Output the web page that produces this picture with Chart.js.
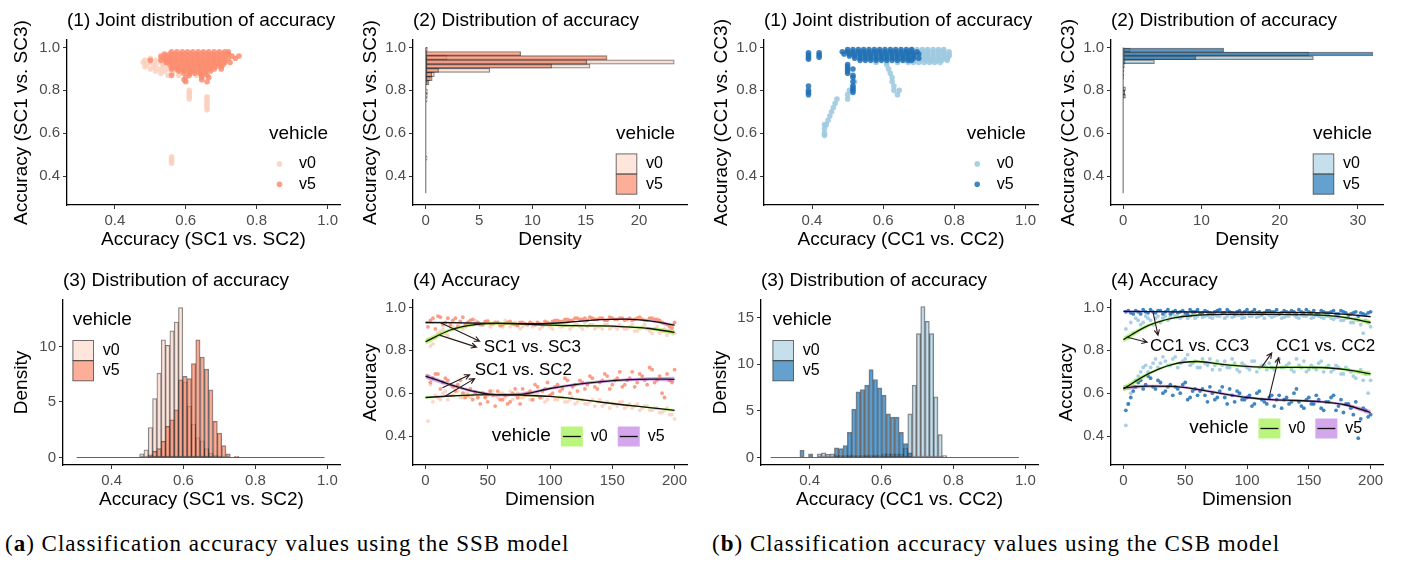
<!DOCTYPE html>
<html>
<head>
<meta charset="utf-8">
<script src="https://cdn.jsdelivr.net/npm/chart.js@4.4.1/dist/chart.umd.min.js"></script>
<style>
  body { margin: 0; background: #fff; width: 1401px; height: 566px; position: relative; overflow: hidden; }
  canvas { position: absolute; }
  .cap { position: absolute; font-family: "Liberation Serif", "Times New Roman", serif; font-size: 23px;
         letter-spacing: 1px; color: #000; white-space: nowrap; }
</style>
</head>
<body>
<canvas id="a1" width="345" height="255" style="left:0px;top:0px"></canvas>
<canvas id="a2" width="350" height="255" style="left:345px;top:0px"></canvas>
<canvas id="b1" width="345" height="255" style="left:700px;top:0px"></canvas>
<canvas id="b2" width="356" height="255" style="left:1045px;top:0px"></canvas>
<canvas id="a3" width="345" height="255" style="left:0px;top:260px"></canvas>
<canvas id="a4" width="350" height="255" style="left:345px;top:260px"></canvas>
<canvas id="b3" width="345" height="255" style="left:700px;top:260px"></canvas>
<canvas id="b4" width="356" height="255" style="left:1045px;top:260px"></canvas>
<div class="cap" style="left:5px;top:531px">(<b>a</b>) Classification accuracy values using the SSB model</div>
<div class="cap" style="left:712px;top:531px">(<b>b</b>) Classification accuracy values using the CSB model</div>
<script>
const FONT = '"Liberation Sans", Arial, sans-serif';

// ---- axis ticks
const accTicks = [0.4, 0.6, 0.8, 1.0];
const dimTicks = [0, 50, 100, 150, 200];

// ---- (1) joint scatter, read row by row: [accuracy vs SC3/CC3, [accuracy vs SC2/CC2 ...]]
const jointSsbV5 = [
  [0.98, [0.56, 0.575, 0.59, 0.605, 0.62, 0.635, 0.65, 0.665, 0.68, 0.695, 0.71, 0.72]],
  [0.97, [0.54, 0.555, 0.57, 0.585, 0.60, 0.615, 0.63, 0.645, 0.66, 0.675, 0.69, 0.705, 0.72]],
  [0.96, [0.53, 0.545, 0.56, 0.575, 0.59, 0.605, 0.62, 0.635, 0.65, 0.665, 0.68, 0.695, 0.71, 0.73, 0.75]],
  [0.95, [0.54, 0.555, 0.57, 0.585, 0.60, 0.615, 0.63, 0.645, 0.66, 0.675, 0.69, 0.705, 0.72, 0.74]],
  [0.94, [0.50, 0.53, 0.545, 0.56, 0.575, 0.59, 0.605, 0.62, 0.635, 0.65, 0.665, 0.68, 0.695, 0.71]],
  [0.93, [0.545, 0.56, 0.575, 0.59, 0.605, 0.62, 0.635, 0.65, 0.665, 0.68, 0.695, 0.71, 0.725]],
  [0.92, [0.555, 0.57, 0.585, 0.60, 0.615, 0.63, 0.645, 0.66, 0.675, 0.69, 0.705]],
  [0.91, [0.565, 0.58, 0.595, 0.61, 0.625, 0.64, 0.655, 0.67, 0.685, 0.70]],
  [0.90, [0.56, 0.575, 0.59, 0.605, 0.62, 0.635, 0.65, 0.665, 0.68, 0.70]],
  [0.89, [0.58, 0.595, 0.61, 0.625, 0.64, 0.655, 0.67]],
  [0.88, [0.595, 0.61, 0.625, 0.64, 0.655]],
  [0.87, [0.56, 0.61, 0.645, 0.66]],
  [0.86, [0.60, 0.645, 0.665]],
  [0.85, [0.595, 0.645]],
  [0.84, [0.60, 0.66]]
];
const jointSsbV0 = [
  [0.95, [0.50, 0.53, 0.555]],
  [0.94, [0.485, 0.515, 0.545]],
  [0.93, [0.48, 0.50, 0.53, 0.555]],
  [0.92, [0.49, 0.515, 0.54]],
  [0.91, [0.485, 0.51, 0.535, 0.56]],
  [0.90, [0.50, 0.525, 0.55, 0.575]],
  [0.89, [0.515, 0.54, 0.565, 0.59, 0.62]],
  [0.88, [0.53, 0.56, 0.585, 0.61, 0.64]],
  [0.87, [0.55, 0.58, 0.63]],
  [0.80, [0.61]], [0.79, [0.61]], [0.78, [0.61]], [0.77, [0.61, 0.66]], [0.76, [0.61, 0.66]],
  [0.75, [0.66]], [0.74, [0.66]], [0.73, [0.66]], [0.72, [0.66]], [0.71, [0.66]],
  [0.49, [0.56]], [0.48, [0.56]], [0.47, [0.56]], [0.46, [0.56]]
];
const jointCsbV5 = [
  [0.99, [0.50, 0.515, 0.53, 0.545, 0.56, 0.575, 0.59, 0.605, 0.62, 0.635, 0.65, 0.665, 0.68]],
  [0.98, [0.485, 0.50, 0.515, 0.53, 0.545, 0.56, 0.575, 0.59, 0.605, 0.62, 0.635, 0.65, 0.665, 0.68, 0.695]],
  [0.97, [0.49, 0.505, 0.52, 0.535, 0.55, 0.565, 0.58, 0.595, 0.61, 0.625, 0.64, 0.655, 0.67, 0.685, 0.70]],
  [0.96, [0.505, 0.52, 0.535, 0.55, 0.565, 0.58, 0.595, 0.61, 0.625, 0.64, 0.655, 0.67, 0.685]],
  [0.95, [0.52, 0.535, 0.55, 0.565, 0.58, 0.595, 0.61, 0.625, 0.64, 0.655, 0.67, 0.685, 0.70]],
  [0.94, [0.535, 0.55, 0.565, 0.58, 0.595, 0.61, 0.625, 0.64, 0.655, 0.67, 0.68]],
  [0.975, [0.39, 0.42]], [0.965, [0.39, 0.42]], [0.955, [0.39, 0.42]], [0.945, [0.39]],
  [0.92, [0.50]], [0.91, [0.50]], [0.90, [0.50, 0.515]], [0.89, [0.50]], [0.88, [0.50]],
  [0.87, [0.515]], [0.86, [0.515]], [0.84, [0.515]], [0.82, [0.39, 0.515]], [0.81, [0.515]],
  [0.80, [0.39, 0.515]], [0.79, [0.39, 0.515]], [0.78, [0.39]]
];
const jointCsbV0 = [
  [0.99, [0.68, 0.695, 0.71, 0.725, 0.74, 0.755, 0.77]],
  [0.98, [0.665, 0.68, 0.695, 0.71, 0.725, 0.74, 0.755, 0.77, 0.785]],
  [0.97, [0.68, 0.695, 0.71, 0.725, 0.74, 0.755, 0.77, 0.785]],
  [0.96, [0.665, 0.68, 0.695, 0.71, 0.725, 0.74, 0.755, 0.77, 0.785]],
  [0.95, [0.68, 0.695, 0.71, 0.725, 0.74, 0.755, 0.77, 0.78]],
  [0.94, [0.66, 0.675, 0.69, 0.705, 0.72, 0.735, 0.75, 0.765, 0.78]],
  [0.93, [0.58, 0.61, 0.64, 0.67, 0.685, 0.70, 0.715, 0.73, 0.745, 0.76]],
  [0.92, [0.61]], [0.90, [0.615]], [0.88, [0.62]], [0.86, [0.625]], [0.84, [0.625, 0.52]],
  [0.82, [0.63, 0.515]], [0.80, [0.63, 0.645, 0.505]], [0.78, [0.64, 0.50]], [0.76, [0.50, 0.47]],
  [0.74, [0.465]], [0.72, [0.46]], [0.70, [0.455]], [0.68, [0.45]], [0.66, [0.445]],
  [0.64, [0.44, 0.435]], [0.62, [0.435]], [0.60, [0.435]], [0.59, [0.435]]
];

// ---- (2) density of accuracy vs SC3/CC3 (horizontal histogram)
const bins2Ssb = [0.991, 0.9715, 0.952, 0.9325, 0.913, 0.8935, 0.874, 0.8545, 0.835, 0.796, 0.7765, 0.757, 0.484];
const dens2SsbV5 = [0.15, 8.9, 17.0, 15.1, 11.8, 1.2, 0.55, 0.6, 0.3, 0, 0, 0, 0];
const dens2SsbV0 = [0.05, 0.1, 2.0, 23.3, 15.4, 6.0, 0.8, 0.4, 0.1, 0.15, 0.15, 0.12, 0.12];
const bins2Csb = [0.988, 0.970, 0.952, 0.934, 0.916, 0.898, 0.880, 0.862, 0.808, 0.790, 0.772];
const dens2CsbV5 = [12.85, 31.9, 9.3, 0.25, 0.12, 0.1, 0.08, 0.06, 0.1, 0.2, 0.15];
const dens2CsbV0 = [0.9, 23.7, 24.3, 4.0, 0.15, 0.1, 0.05, 0.05, 0.3, 0.2, 0.3];

// ---- (3) density of accuracy vs SC2/CC2
const bins3Ssb = [0.484, 0.496, 0.508, 0.520, 0.532, 0.544, 0.556, 0.568, 0.580, 0.592, 0.604, 0.616,
                  0.628, 0.640, 0.652, 0.664, 0.676, 0.688, 0.700, 0.712, 0.724, 0.736, 0.748];
const dens3SsbV0 = [0.33, 0.7, 2.7, 5.3, 7.6, 10.6, 10.1, 11.4, 12.2, 13.5, 6.8, 4.6,
                    3.0, 1.8, 1.5, 0.8, 0.4, 0.2, 0.1, 0, 0, 0, 0];
const dens3SsbV5 = [0, 0, 0.25, 0.55, 0.8, 1.45, 2.8, 3.4, 4.3, 7.0, 7.3, 7.1,
                    8.45, 10.6, 9.05, 7.95, 6.1, 3.25, 2.2, 1.07, 0.33, 0, 0.1];
const bins3Csb = [0.379, 0.391, 0.403, 0.415, 0.427, 0.439, 0.451, 0.463, 0.475, 0.487, 0.499, 0.511,
                  0.523, 0.535, 0.547, 0.559, 0.571, 0.583, 0.595, 0.607, 0.619, 0.631, 0.643, 0.655,
                  0.667, 0.679, 0.691, 0.703, 0.715, 0.727, 0.739, 0.751, 0.763, 0.775];
const dens3CsbV5 = [0.78, 0, 0.39, 0, 0, 0, 0, 0, 1.03, 0.96, 1.28, 2.7,
                    5.2, 7.05, 7.3, 7.77, 9.43, 8.37, 7.48, 6.7, 4.68, 4.33, 4.33, 2.7,
                    1.5, 0.5, 0, 0, 0, 0, 0, 0, 0, 0];
const dens3CsbV0 = [0, 0, 0, 0, 0.4, 0.5, 0.35, 0.4, 0.3, 0.2, 0.2, 0.3,
                    0.2, 0.2, 0.2, 0.3, 0.2, 0.3, 0.2, 0.4, 0.4, 0.4, 0.4, 0.4,
                    1.0, 4.68, 7.77, 13.3, 16.2, 14.6, 13.3, 6.5, 2.45, 0.2];

// ---- (4) accuracy by dimension, read at two interleaved sets of dimensions
const dims = [2, 6, 10, 14, 18, 22, 26, 30, 34, 38, 42, 46, 50, 54, 58, 62, 66, 70, 74, 78,
              82, 86, 90, 94, 98, 102, 106, 110, 114, 118, 122, 126, 130, 134, 138, 142, 146, 150, 154, 158,
              162, 166, 170, 174, 178, 182, 186, 190, 194, 198];
const dimsB = [4, 8, 12, 16, 20, 24, 28, 32, 36, 40, 44, 48, 52, 56, 60, 64, 68, 72, 76, 80,
               84, 88, 92, 96, 100, 104, 108, 112, 116, 120, 124, 128, 132, 136, 140, 144, 148, 152, 156, 160,
               164, 168, 172, 176, 180, 184, 188, 192, 196, 200];
const sc3V5 = [0.91, 0.95, 0.96, 0.92, 0.95, 0.94, 0.91, 0.955, 0.93, 0.945, 0.93, 0.92, 0.935, 0.925, 0.93, 0.92, 0.93, 0.925, 0.915, 0.93,
               0.92, 0.925, 0.93, 0.92, 0.93, 0.935, 0.94, 0.935, 0.945, 0.94, 0.95, 0.945, 0.94, 0.95, 0.945, 0.95, 0.94, 0.95, 0.945, 0.95,
               0.945, 0.94, 0.95, 0.945, 0.94, 0.95, 0.945, 0.93, 0.92, 0.905];
const sc3V5B = [0.94, 0.90, 0.955, 0.93, 0.92, 0.95, 0.935, 0.92, 0.94, 0.925, 0.92, 0.935, 0.925, 0.93, 0.915, 0.925, 0.935, 0.92, 0.93, 0.925,
                0.93, 0.92, 0.925, 0.935, 0.925, 0.94, 0.935, 0.945, 0.94, 0.95, 0.945, 0.95, 0.955, 0.945, 0.95, 0.94, 0.955, 0.945, 0.95, 0.94,
                0.95, 0.945, 0.955, 0.94, 0.95, 0.945, 0.94, 0.925, 0.91, 0.93];
const sc3V0 = [0.85, 0.83, 0.88, 0.90, 0.87, 0.91, 0.92, 0.90, 0.93, 0.92, 0.93, 0.92, 0.94, 0.92, 0.93, 0.91, 0.93, 0.92, 0.92, 0.91,
               0.92, 0.91, 0.93, 0.91, 0.92, 0.90, 0.92, 0.91, 0.93, 0.91, 0.92, 0.90, 0.91, 0.92, 0.91, 0.90, 0.92, 0.91, 0.90, 0.91,
               0.90, 0.92, 0.89, 0.91, 0.90, 0.88, 0.91, 0.89, 0.87, 0.90];
const sc3V0B = [0.82, 0.86, 0.89, 0.88, 0.91, 0.90, 0.93, 0.91, 0.92, 0.94, 0.92, 0.93, 0.91, 0.93, 0.92, 0.94, 0.91, 0.93, 0.90, 0.92,
                0.93, 0.92, 0.90, 0.92, 0.91, 0.93, 0.91, 0.92, 0.90, 0.92, 0.91, 0.93, 0.92, 0.90, 0.91, 0.92, 0.90, 0.91, 0.92, 0.90,
                0.91, 0.89, 0.90, 0.92, 0.89, 0.90, 0.88, 0.90, 0.89, 0.88];
const sc2V5 = [0.68, 0.67, 0.69, 0.65, 0.66, 0.63, 0.64, 0.60, 0.59, 0.57, 0.58, 0.60, 0.56, 0.59, 0.61, 0.57, 0.55, 0.60, 0.58, 0.62,
               0.60, 0.57, 0.63, 0.61, 0.65, 0.60, 0.64, 0.62, 0.66, 0.63, 0.61, 0.65, 0.64, 0.67, 0.62, 0.66, 0.68, 0.64, 0.67, 0.63,
               0.66, 0.70, 0.65, 0.68, 0.64, 0.71, 0.66, 0.60, 0.69, 0.65];
const sc2V5B = [0.65, 0.69, 0.62, 0.67, 0.64, 0.61, 0.66, 0.58, 0.62, 0.60, 0.55, 0.58, 0.61, 0.54, 0.57, 0.59, 0.56, 0.62, 0.55, 0.59,
                0.61, 0.64, 0.58, 0.62, 0.59, 0.63, 0.61, 0.67, 0.60, 0.64, 0.66, 0.62, 0.68, 0.63, 0.65, 0.69, 0.62, 0.66, 0.70, 0.64,
                0.67, 0.63, 0.69, 0.66, 0.72, 0.65, 0.68, 0.58, 0.66, 0.71];
const sc2V0 = [0.47, 0.56, 0.58, 0.60, 0.57, 0.59, 0.61, 0.58, 0.60, 0.59, 0.58, 0.60, 0.59, 0.61, 0.58, 0.60, 0.59, 0.57, 0.60, 0.58,
               0.59, 0.57, 0.60, 0.58, 0.57, 0.59, 0.57, 0.58, 0.56, 0.58, 0.56, 0.57, 0.55, 0.57, 0.56, 0.54, 0.56, 0.55, 0.54, 0.56,
               0.54, 0.53, 0.55, 0.53, 0.54, 0.52, 0.53, 0.51, 0.53, 0.50];
const sc2V0B = [0.64, 0.59, 0.57, 0.61, 0.59, 0.62, 0.58, 0.60, 0.58, 0.61, 0.60, 0.58, 0.61, 0.59, 0.60, 0.58, 0.61, 0.59, 0.58, 0.60,
                0.57, 0.59, 0.58, 0.56, 0.59, 0.57, 0.58, 0.56, 0.57, 0.55, 0.57, 0.55, 0.56, 0.54, 0.57, 0.55, 0.53, 0.55, 0.56, 0.53,
                0.55, 0.54, 0.52, 0.54, 0.52, 0.53, 0.51, 0.52, 0.50, 0.48];
const cc3V5 = [0.98, 0.975, 0.985, 0.97, 0.98, 0.99, 0.975, 0.985, 0.98, 0.97, 0.985, 0.98, 0.975, 0.99, 0.98, 0.97, 0.985, 0.975, 0.98, 0.99,
               0.975, 0.98, 0.97, 0.985, 0.98, 0.975, 0.99, 0.98, 0.975, 0.985, 0.98, 0.97, 0.985, 0.975, 0.98, 0.99, 0.975, 0.98, 0.985, 0.97,
               0.98, 0.975, 0.985, 0.97, 0.98, 0.965, 0.975, 0.96, 0.97, 0.975];
const cc3V5B = [0.985, 0.97, 0.98, 0.99, 0.975, 0.98, 0.985, 0.97, 0.99, 0.98, 0.975, 0.985, 0.97, 0.98, 0.99, 0.975, 0.98, 0.97, 0.985, 0.975,
                0.99, 0.975, 0.98, 0.97, 0.99, 0.98, 0.975, 0.97, 0.985, 0.98, 0.99, 0.975, 0.98, 0.985, 0.97, 0.98, 0.99, 0.975, 0.97, 0.985,
                0.975, 0.98, 0.97, 0.985, 0.975, 0.97, 0.98, 0.975, 0.965, 0.98];
const cc3V0 = [0.90, 0.93, 0.95, 0.92, 0.96, 0.94, 0.95, 0.93, 0.96, 0.955, 0.96, 0.95, 0.965, 0.96, 0.95, 0.97, 0.96, 0.955, 0.965, 0.96,
               0.95, 0.97, 0.96, 0.965, 0.955, 0.96, 0.97, 0.96, 0.95, 0.965, 0.96, 0.97, 0.955, 0.96, 0.965, 0.95, 0.96, 0.97, 0.955, 0.96,
               0.95, 0.96, 0.945, 0.955, 0.94, 0.95, 0.93, 0.94, 0.88, 0.93];
const cc3V0B = [0.86, 0.88, 0.94, 0.93, 0.95, 0.92, 0.96, 0.95, 0.94, 0.97, 0.955, 0.96, 0.95, 0.97, 0.96, 0.955, 0.965, 0.95, 0.96, 0.97,
                0.96, 0.955, 0.965, 0.95, 0.97, 0.96, 0.955, 0.965, 0.97, 0.955, 0.965, 0.95, 0.96, 0.97, 0.955, 0.965, 0.96, 0.95, 0.965, 0.955,
                0.96, 0.95, 0.955, 0.94, 0.95, 0.93, 0.945, 0.92, 0.94, 0.91];
const cc2V0 = [0.45, 0.60, 0.66, 0.70, 0.73, 0.72, 0.76, 0.74, 0.75, 0.73, 0.77, 0.74, 0.76, 0.73, 0.75, 0.72, 0.74, 0.76, 0.73, 0.71,
               0.75, 0.72, 0.74, 0.70, 0.73, 0.71, 0.75, 0.72, 0.73, 0.74, 0.71, 0.76, 0.72, 0.74, 0.70, 0.73, 0.75, 0.71, 0.72, 0.74,
               0.70, 0.73, 0.71, 0.72, 0.69, 0.71, 0.68, 0.70, 0.66, 0.60];
const cc2V0B = [0.55, 0.63, 0.68, 0.72, 0.70, 0.74, 0.72, 0.77, 0.73, 0.76, 0.72, 0.75, 0.78, 0.74, 0.72, 0.76, 0.73, 0.71, 0.75, 0.73,
                0.72, 0.76, 0.71, 0.74, 0.72, 0.75, 0.70, 0.73, 0.71, 0.72, 0.75, 0.72, 0.73, 0.71, 0.76, 0.72, 0.70, 0.73, 0.71, 0.75,
                0.72, 0.70, 0.73, 0.69, 0.72, 0.70, 0.67, 0.71, 0.69, 0.66];
const cc2V5 = [0.52, 0.58, 0.63, 0.66, 0.64, 0.67, 0.62, 0.65, 0.61, 0.64, 0.63, 0.60, 0.65, 0.58, 0.62, 0.61, 0.59, 0.63, 0.57, 0.61,
               0.58, 0.62, 0.56, 0.60, 0.57, 0.59, 0.55, 0.61, 0.56, 0.58, 0.54, 0.59, 0.57, 0.55, 0.60, 0.56, 0.53, 0.58, 0.55, 0.57,
               0.52, 0.56, 0.59, 0.54, 0.51, 0.55, 0.50, 0.39, 0.53, 0.49];
const cc2V5B = [0.55, 0.61, 0.65, 0.62, 0.68, 0.63, 0.66, 0.60, 0.63, 0.59, 0.62, 0.64, 0.57, 0.61, 0.59, 0.62, 0.56, 0.60, 0.58, 0.63,
                0.55, 0.59, 0.61, 0.57, 0.58, 0.54, 0.60, 0.57, 0.55, 0.59, 0.57, 0.53, 0.58, 0.56, 0.62, 0.54, 0.57, 0.55, 0.59, 0.53,
                0.56, 0.58, 0.52, 0.57, 0.55, 0.53, 0.56, 0.48, 0.52, 0.50];

// smoothed fits and their standard errors
const fitDims = [0, 20, 40, 60, 80, 100, 120, 140, 160, 180, 200];
const sc3V0Fit = [0.84, 0.895, 0.92, 0.926, 0.922, 0.918, 0.915, 0.914, 0.91, 0.902, 0.884];
const sc3V0Se  = [0.014, 0.008, 0.006, 0.005, 0.005, 0.005, 0.005, 0.005, 0.005, 0.007, 0.012];
const sc3V5Fit = [0.93, 0.929, 0.927, 0.926, 0.925, 0.926, 0.934, 0.943, 0.946, 0.938, 0.918];
const sc3V5Se  = [0.006, 0.004, 0.003, 0.003, 0.003, 0.003, 0.003, 0.003, 0.003, 0.004, 0.006];
const sc2V0Fit = [0.58, 0.587, 0.592, 0.593, 0.59, 0.585, 0.574, 0.559, 0.545, 0.533, 0.52];
const sc2V0Se  = [0.006, 0.004, 0.004, 0.004, 0.004, 0.004, 0.004, 0.004, 0.004, 0.004, 0.006];
const sc2V5Fit = [0.68, 0.64, 0.607, 0.592, 0.597, 0.622, 0.64, 0.653, 0.662, 0.666, 0.665];
const sc2V5Se  = [0.012, 0.008, 0.007, 0.007, 0.007, 0.007, 0.007, 0.007, 0.007, 0.008, 0.012];
const cc3V0Fit = [0.85, 0.915, 0.95, 0.964, 0.968, 0.968, 0.968, 0.967, 0.964, 0.953, 0.93];
const cc3V0Se  = [0.014, 0.008, 0.005, 0.004, 0.004, 0.004, 0.004, 0.004, 0.004, 0.006, 0.012];
const cc3V5Fit = [0.982, 0.981, 0.98, 0.979, 0.978, 0.978, 0.977, 0.977, 0.975, 0.968, 0.957];
const cc3V5Se  = [0.005, 0.003, 0.002, 0.002, 0.002, 0.002, 0.002, 0.002, 0.002, 0.003, 0.005];
const cc2V0Fit = [0.62, 0.69, 0.735, 0.748, 0.735, 0.725, 0.72, 0.721, 0.72, 0.71, 0.69];
const cc2V0Se  = [0.014, 0.008, 0.006, 0.006, 0.006, 0.006, 0.006, 0.006, 0.006, 0.007, 0.012];
const cc2V5Fit = [0.625, 0.633, 0.632, 0.618, 0.598, 0.58, 0.57, 0.566, 0.56, 0.545, 0.51];
const cc2V5Se  = [0.012, 0.007, 0.006, 0.006, 0.006, 0.006, 0.006, 0.006, 0.006, 0.007, 0.012];

// annotation arrows [fromDim, fromAcc, toDim, toAcc] and labels
const ssbArrows = [[11.3, 0.931, 43.5, 0.843], [11.3, 0.871, 41, 0.815], [13.7, 0.626, 35.5, 0.686], [15.3, 0.585, 39.5, 0.668]];
const ssbLabels = [{ x: 46.8, y: 0.814, text: 'SC1 vs. SC3' }, { x: 39.5, y: 0.706, text: 'SC1 vs. SC2' }];
const csbArrows = [[24, 0.977, 28, 0.871], [2.4, 0.862, 19.2, 0.838], [112, 0.723, 120, 0.788], [117.6, 0.575, 125.6, 0.765]];
const csbLabels = [{ x: 21.6, y: 0.821, text: 'CC1 vs. CC3' }, { x: 123.5, y: 0.821, text: 'CC1 vs. CC2' }];

// ---- colours
const SSB = { v0pt: 'rgba(252,208,190,0.85)', v5pt: 'rgba(251,140,110,0.85)',
              v0bar: 'rgba(253,222,208,0.75)', v5bar: 'rgba(251,140,110,0.7)' };
const CSB = { v0pt: 'rgba(158,202,225,0.9)', v5pt: 'rgba(33,113,181,0.85)',
              v0bar: 'rgba(158,202,225,0.6)', v5bar: 'rgba(49,130,189,0.75)' };
const RIB = { v0: 'rgba(140,240,40,0.6)', v5: 'rgba(170,80,220,0.5)' };

const fmt1 = v => v.toFixed(1);
const fmt0 = v => String(v);
const pts = (xs, ys) => xs.map((x, i) => ({ x, y: ys[i] }));
const rowsToPts = rows => rows.flatMap(([y, xs]) => xs.map(x => ({ x, y })));

// ggplot-like legend drawn inside the plot
const ggLegend = {
  id: 'ggLegend',
  afterDraw(chart, args, o) {
    if (!o || !o.items) return;
    const ctx = chart.ctx;
    const x0 = o.left - chart.canvas.offsetLeft, y0 = o.mid - chart.canvas.offsetTop;
    ctx.save();
    ctx.textBaseline = 'middle';
    ctx.textAlign = 'left';
    ctx.fillStyle = '#000';
    ctx.font = '19px ' + FONT;
    ctx.fillText(o.title, x0, y0);
    let kx = x0 + ctx.measureText(o.title).width + 10;
    o.items.forEach((it, i) => {
      const cx = o.horizontal ? kx + 11 : x0 + 10.5;
      const cy = o.horizontal ? y0 + 0.5 : y0 + 30.5 + 20.3 * i;
      if (it.kind === 'point') {
        ctx.fillStyle = it.color;
        ctx.beginPath(); ctx.arc(cx, cy, 2.8, 0, Math.PI * 2); ctx.fill();
      } else if (it.kind === 'box') {
        ctx.fillStyle = it.color;
        ctx.fillRect(cx - 10.3, cy - 10, 20.6, 20);
        ctx.strokeStyle = 'rgba(50,50,50,0.7)'; ctx.lineWidth = 1;
        ctx.strokeRect(cx - 10.3, cy - 10, 20.6, 20);
      } else {
        ctx.fillStyle = it.color;
        ctx.fillRect(cx - 11, cy - 10, 22, 20);
        ctx.strokeStyle = '#111'; ctx.lineWidth = 1.3;
        ctx.beginPath(); ctx.moveTo(cx - 9, cy); ctx.lineTo(cx + 9, cy); ctx.stroke();
      }
      ctx.fillStyle = '#000';
      ctx.font = '16px ' + FONT;
      const lx = o.horizontal ? cx + 19 : x0 + 30;
      ctx.fillText(it.label, lx, cy);
      if (o.horizontal) kx = lx + ctx.measureText(it.label).width + 10;
    });
    ctx.restore();
  }
};

// arrows + text labels, placed in data units
const notes = {
  id: 'notes',
  afterDatasetsDraw(chart, args, o) {
    if (!o || !o.arrows) return;
    const { ctx, scales: { x, y } } = chart;
    ctx.save();
    ctx.strokeStyle = '#2a1a1a';
    ctx.lineWidth = 1.1;
    o.arrows.forEach(a => {
      const x1 = x.getPixelForValue(a[0]), y1 = y.getPixelForValue(a[1]);
      const x2 = x.getPixelForValue(a[2]), y2 = y.getPixelForValue(a[3]);
      const ang = Math.atan2(y2 - y1, x2 - x1);
      ctx.beginPath();
      ctx.moveTo(x1, y1); ctx.lineTo(x2, y2);
      ctx.moveTo(x2 - 6 * Math.cos(ang - 0.45), y2 - 6 * Math.sin(ang - 0.45));
      ctx.lineTo(x2, y2);
      ctx.lineTo(x2 - 6 * Math.cos(ang + 0.45), y2 - 6 * Math.sin(ang + 0.45));
      ctx.stroke();
    });
    ctx.fillStyle = '#000';
    ctx.font = '17px ' + FONT;
    ctx.textBaseline = 'middle';
    ctx.textAlign = 'left';
    o.labels.forEach(l => ctx.fillText(l.text, x.getPixelForValue(l.x), y.getPixelForValue(l.y)));
    ctx.restore();
  }
};

Chart.register(ggLegend, notes);

function linAxis(isX, a, size) {
  const [min, max, ticks, title, fmt] = a;
  return {
    type: 'linear', position: isX ? 'bottom' : 'left', min, max, offset: false,
    afterBuildTicks: s => { s.ticks = ticks.map(v => ({ value: v })); },
    afterFit: s => { if (isX) s.height = size; else s.width = size; },
    ticks: { font: { family: FONT, size: 15 }, color: '#4d4d4d', padding: 3, callback: fmt },
    grid: { drawOnChartArea: false, drawTicks: true, tickLength: 4, color: '#333', lineWidth: 1, offset: false },
    border: { display: true, color: '#000', width: 1.3 },
    title: { display: true, text: title, color: '#000', font: { family: FONT, size: 19 },
             padding: isX ? { top: 0, bottom: 3.6 } : { top: 0, bottom: 0 } }
  };
}

function panel(id, area, yTitleMid, title, type, datasets, xAxis, yAxis, extra) {
  const el = document.getElementById(id);
  const ox = el.offsetLeft, oy = el.offsetTop;
  const l = area[0] - ox, t = area[1] - oy, r = area[2] - ox, b = area[3] - oy;
  const padL = yTitleMid - ox - 11.4;
  new Chart(el, {
    type,
    data: { datasets },
    options: {
      responsive: false, animation: false, events: [],
      indexAxis: extra.indexAxis || 'x',
      layout: { padding: { left: padL, right: el.width - r, top: 0, bottom: 0 } },
      scales: { x: linAxis(true, xAxis, el.height - b), y: linAxis(false, yAxis, l - padL) },
      plugins: {
        legend: { display: false },
        tooltip: { enabled: false },
        title: { display: true, text: title, align: 'start', fullSize: false, color: '#000',
                 font: { family: FONT, size: 19, weight: 'normal' }, padding: { top: 9, bottom: t - 22.8 - 9 } },
        ggLegend: extra.legend,
        notes: extra.notes || {}
      }
    }
  });
}

const dots = (data, color, r, order) => ({ type: 'scatter', data, backgroundColor: color, borderWidth: 0, pointRadius: r, order });
const bars = (centers, dens, fill, order, horiz) => ({
  type: 'bar',
  data: centers.map((c, i) => horiz ? { y: c, x: dens[i] } : { x: c, y: dens[i] }),
  backgroundColor: fill, borderColor: 'rgba(45,40,40,0.6)', borderWidth: 1, borderSkipped: false,
  barPercentage: 1, categoryPercentage: 1, grouped: false, order
});
const rule = (data) => ({ type: 'line', data, borderColor: 'rgba(70,70,70,0.85)', borderWidth: 1, pointRadius: 0, fill: false, order: 5 });
function fitSets(fit, se, fill) {
  const smooth = { type: 'line', pointRadius: 0, cubicInterpolationMode: 'monotone' };
  return [
    { ...smooth, data: pts(fitDims, fit.map((v, i) => v - se[i])), borderWidth: 0, borderColor: 'transparent', fill: false, order: 1 },
    { ...smooth, data: pts(fitDims, fit.map((v, i) => v + se[i])), borderWidth: 0, borderColor: 'transparent', fill: '-1', backgroundColor: fill, order: 1 },
    { ...smooth, data: pts(fitDims, fit), borderColor: '#111', borderWidth: 1.3, fill: false, order: 0 }
  ];
}
const both = (a, b) => pts(dims, a).concat(pts(dimsB, b));
const ptLegend = (c) => ({ title: 'vehicle', items: [{ label: 'v0', kind: 'point', color: c.v0pt }, { label: 'v5', kind: 'point', color: c.v5pt }] });
const boxLegend = (c) => ({ title: 'vehicle', items: [{ label: 'v0', kind: 'box', color: c.v0bar }, { label: 'v5', kind: 'box', color: c.v5bar }] });
const ribLegend = { title: 'vehicle', horizontal: true,
  items: [{ label: 'v0', kind: 'ribbon', color: RIB.v0 }, { label: 'v5', kind: 'ribbon', color: RIB.v5 }] };

// ---------------- (a) SSB ----------------
panel('a1', [67, 40, 340, 205], 21.4, '(1) Joint distribution of accuracy', 'scatter',
  [dots(rowsToPts(jointSsbV5), SSB.v5pt, 2.8, 0), dots(rowsToPts(jointSsbV0), SSB.v0pt, 2.8, 1)],
  [0.265, 1.035, accTicks, 'Accuracy (SC1 vs. SC2)', fmt1],
  [0.265, 1.035, accTicks, 'Accuracy (SC1 vs. SC3)', fmt1],
  { legend: { left: 269, mid: 133.4, ...ptLegend(SSB) } });

panel('a2', [413, 40, 687, 205], 370.4, '(2) Distribution of accuracy', 'bar',
  [bars(bins2Ssb, dens2SsbV5, SSB.v5bar, 0, true), bars(bins2Ssb, dens2SsbV0, SSB.v0bar, 1, true),
   rule([{ x: 0, y: 0.32 }, { x: 0, y: 1.0 }])],
  [-1.2, 24.5, [0, 5, 10, 15, 20], 'Density', fmt0],
  [0.265, 1.035, accTicks, 'Accuracy (SC1 vs. SC3)', fmt1],
  { indexAxis: 'y', legend: { left: 616, mid: 133.4, ...boxLegend(SSB) } });

panel('a3', [63, 300, 340, 465], 21.7, '(3) Distribution of accuracy', 'bar',
  [bars(bins3Ssb, dens3SsbV5, SSB.v5bar, 0), bars(bins3Ssb, dens3SsbV0, SSB.v0bar, 1),
   rule([{ x: 0.303, y: 0 }, { x: 0.992, y: 0 }])],
  [0.265, 1.035, accTicks, 'Accuracy (SC1 vs. SC2)', fmt1],
  [-0.675, 14.18, [0, 5, 10], 'Density', fmt0],
  { legend: { left: 72.7, mid: 320, ...boxLegend(SSB) } });

panel('a4', [413, 300, 687, 465], 370.4, '(4) Accuracy', 'scatter',
  [dots(both(sc3V0, sc3V0B), SSB.v0pt, 1.9, 3), dots(both(sc2V0, sc2V0B), SSB.v0pt, 1.9, 3),
   dots(both(sc3V5, sc3V5B), SSB.v5pt, 1.9, 2), dots(both(sc2V5, sc2V5B), SSB.v5pt, 1.9, 2),
   ...fitSets(sc3V0Fit, sc3V0Se, RIB.v0), ...fitSets(sc3V5Fit, sc3V5Se, RIB.v5),
   ...fitSets(sc2V0Fit, sc2V0Se, RIB.v0), ...fitSets(sc2V5Fit, sc2V5Se, RIB.v5)],
  [-10, 210, dimTicks, 'Dimension', fmt0],
  [0.265, 1.035, accTicks, 'Accuracy', fmt1],
  { legend: { left: 491.7, mid: 436, ...ribLegend }, notes: { arrows: ssbArrows, labels: ssbLabels } });

// ---------------- (b) CSB ----------------
panel('b1', [764, 40, 1038, 205], 721.4, '(1) Joint distribution of accuracy', 'scatter',
  [dots(rowsToPts(jointCsbV5), CSB.v5pt, 2.8, 0), dots(rowsToPts(jointCsbV0), CSB.v0pt, 2.8, 1)],
  [0.265, 1.035, accTicks, 'Accuracy (CC1 vs. CC2)', fmt1],
  [0.265, 1.035, accTicks, 'Accuracy (CC1 vs. CC3)', fmt1],
  { legend: { left: 966.7, mid: 133.4, ...ptLegend(CSB) } });

panel('b2', [1111, 40, 1383, 205], 1068.4, '(2) Distribution of accuracy', 'bar',
  [bars(bins2Csb, dens2CsbV5, CSB.v5bar, 0, true), bars(bins2Csb, dens2CsbV0, CSB.v0bar, 1, true),
   rule([{ x: 0, y: 0.32 }, { x: 0, y: 1.0 }])],
  [-1.55, 33.2, [0, 10, 20, 30], 'Density', fmt0],
  [0.265, 1.035, accTicks, 'Accuracy (CC1 vs. CC3)', fmt1],
  { indexAxis: 'y', legend: { left: 1313, mid: 133.4, ...boxLegend(CSB) } });

panel('b3', [761, 300, 1038, 465], 720.4, '(3) Distribution of accuracy', 'bar',
  [bars(bins3Csb, dens3CsbV5, CSB.v5bar, 0), bars(bins3Csb, dens3CsbV0, CSB.v0bar, 1),
   rule([{ x: 0.292, y: 0 }, { x: 0.982, y: 0 }])],
  [0.265, 1.035, accTicks, 'Accuracy (CC1 vs. CC2)', fmt1],
  [-0.8, 16.9, [0, 5, 10, 15], 'Density', fmt0],
  { legend: { left: 772.7, mid: 320, ...boxLegend(CSB) } });

panel('b4', [1111, 300, 1383, 465], 1066.4, '(4) Accuracy', 'scatter',
  [dots(both(cc3V0, cc3V0B), CSB.v0pt, 1.9, 3), dots(both(cc2V0, cc2V0B), CSB.v0pt, 1.9, 3),
   dots(both(cc3V5, cc3V5B), CSB.v5pt, 1.9, 2), dots(both(cc2V5, cc2V5B), CSB.v5pt, 1.9, 2),
   ...fitSets(cc3V0Fit, cc3V0Se, RIB.v0), ...fitSets(cc3V5Fit, cc3V5Se, RIB.v5),
   ...fitSets(cc2V0Fit, cc2V0Se, RIB.v0), ...fitSets(cc2V5Fit, cc2V5Se, RIB.v5)],
  [-10, 210, dimTicks, 'Dimension', fmt0],
  [0.265, 1.035, accTicks, 'Accuracy', fmt1],
  { legend: { left: 1189.3, mid: 428, ...ribLegend }, notes: { arrows: csbArrows, labels: csbLabels } });
</script>
</body>
</html>
